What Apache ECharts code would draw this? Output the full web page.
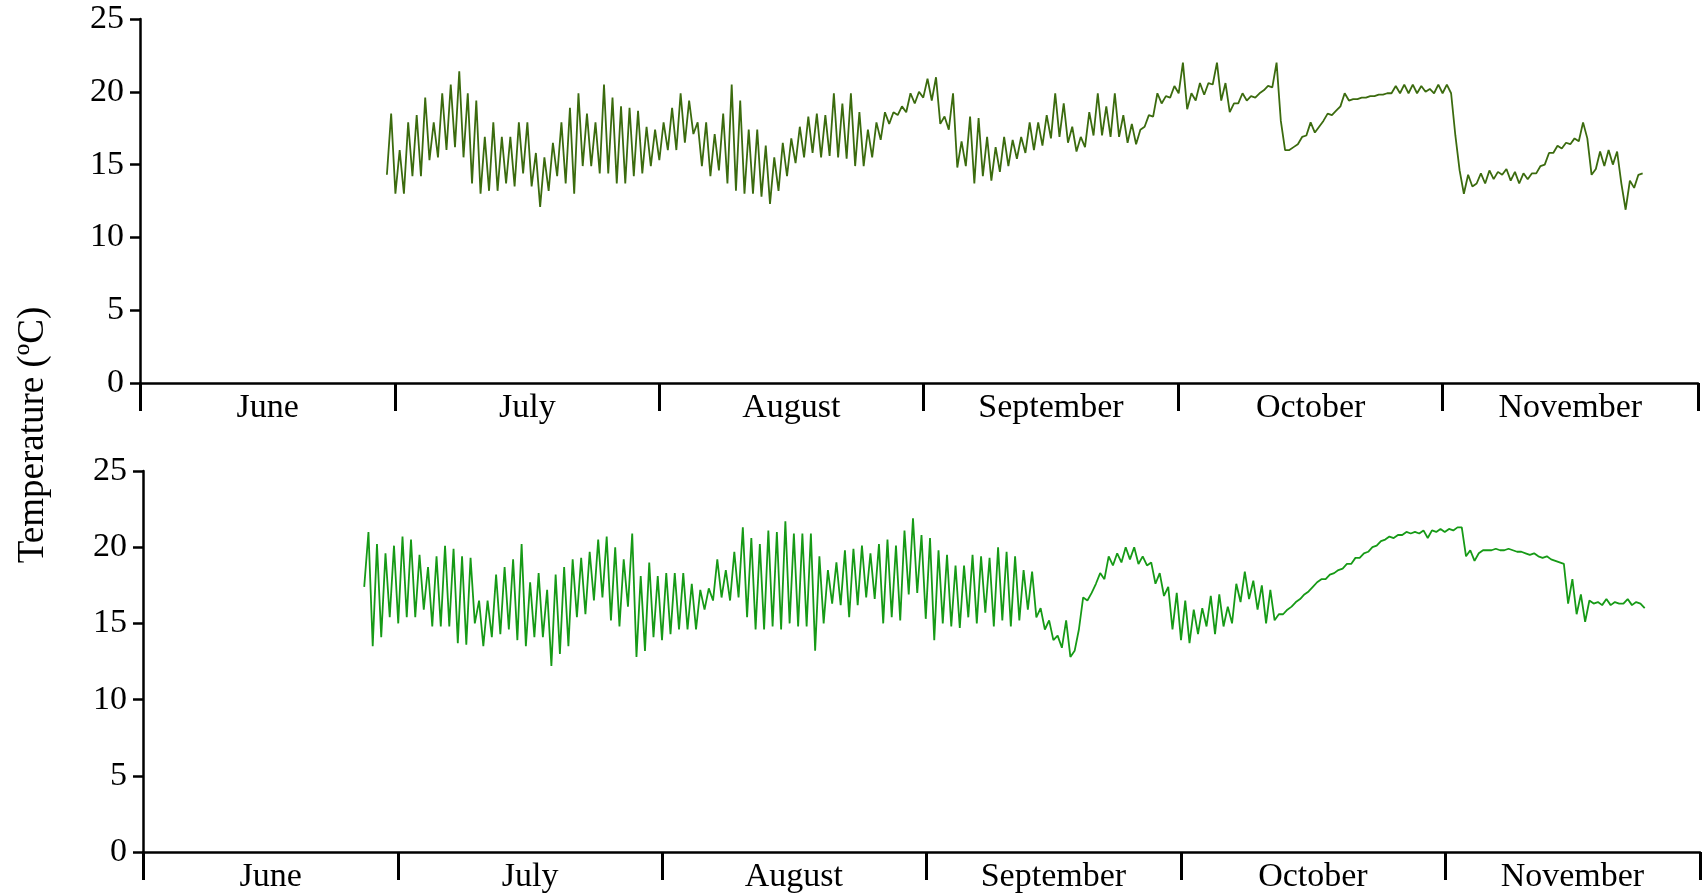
<!DOCTYPE html>
<html>
<head>
<meta charset="utf-8">
<title>Temperature</title>
<script src="https://cdn.jsdelivr.net/npm/echarts@6/dist/echarts.min.js"></script>
<style>
    html, body { margin: 0; padding: 0; background: #fff; }
    #chart { width: 1707px; height: 895px; }
</style>
</head>
<body>
<div id="chart"></div>
<script>
var months = ['June', 'July', 'August', 'September', 'October', 'November'];
// month boundaries, days counted from 1 June
var monthStarts = [0, 30, 61, 92, 122, 153, 183];

// upper logger: readings every 12 h starting at day upperStart
var upperStart = 29;
var upperTemp = [
    14.3, 18.5, 13.0, 16.0, 13.0, 17.9, 14.2, 18.4, 14.2, 19.6, 15.3, 17.9, 15.5, 19.9, 16.0, 20.5,
    16.2, 21.4, 15.5, 19.9, 13.7, 19.4, 13.0, 16.9, 13.2, 17.9, 13.2, 16.9, 13.7, 16.9, 13.5, 17.9,
    14.4, 17.9, 13.5, 15.8, 12.1, 15.5, 13.2, 16.5, 14.2, 17.9, 13.7, 18.9, 13.0, 19.9, 14.9, 18.5,
    14.9, 17.9, 14.4, 20.5, 14.4, 19.6, 13.7, 19.0, 13.7, 18.9, 14.2, 18.7, 14.4, 17.6, 14.9, 17.4,
    15.3, 17.9, 16.0, 18.9, 16.0, 19.9, 16.5, 19.4, 17.1, 17.9, 14.9, 17.9, 14.2, 17.1, 14.6, 18.5,
    13.7, 20.5, 13.2, 19.4, 13.0, 17.4, 13.0, 17.4, 12.8, 16.3, 12.3, 15.5, 13.2, 16.5, 14.2, 16.8,
    15.1, 17.6, 15.5, 18.3, 15.8, 18.5,
    15.5, 18.4, 15.6, 19.9, 15.5, 19.2, 15.4, 19.9, 14.9, 18.6, 14.9, 17.4, 15.5, 17.9, 16.7, 18.6,
    17.8, 18.6, 18.4, 19.0, 18.6, 19.9, 19.2, 20.0, 19.6, 20.9, 19.4, 21.0, 17.8, 18.3, 17.4, 19.9,
    14.8, 16.6, 14.9, 18.3, 13.7, 18.2, 14.2, 16.9, 13.9, 16.2, 14.5, 16.9, 14.9, 16.7, 15.4, 16.9,
    15.8, 17.9, 16.0, 17.9, 16.3, 18.4, 16.8, 19.9, 16.9, 19.2, 16.5, 17.6, 15.9, 16.9, 16.2, 18.6,
    17.0, 19.9, 17.0, 19.0, 16.9, 19.9, 16.9, 18.4, 16.5, 17.8, 16.4, 17.4, 17.6, 18.4, 18.3, 19.9,
    19.2, 19.7, 19.6, 20.4, 19.9, 22.0, 18.8, 19.9, 19.4, 20.6, 19.8, 20.6, 20.5, 22.0, 19.4, 20.6,
    18.6, 19.2, 19.2, 19.9, 19.4, 19.7,
    19.6, 19.9, 20.1, 20.4, 20.3, 22.0, 18.0, 16.0, 16.0, 16.2, 16.4, 16.9, 17.0, 17.9, 17.2, 17.6,
    18.0, 18.5, 18.4, 18.7, 19.0, 19.9, 19.4, 19.5, 19.5, 19.6, 19.6, 19.7, 19.7, 19.8, 19.8, 19.9,
    19.9, 20.4, 19.9, 20.5, 19.9, 20.5, 19.9, 20.4, 20.0, 20.2, 19.9, 20.5, 19.9, 20.5, 19.9, 17.0,
    14.6, 13.0, 14.3, 13.5, 13.7, 14.4, 13.7, 14.6, 14.0, 14.5, 14.3, 14.7, 13.9, 14.5, 13.7, 14.4,
    14.0, 14.4, 14.4, 14.9, 15.0, 15.8, 15.8, 16.3, 16.1, 16.5, 16.4, 16.8, 16.6, 17.9, 16.8, 14.3,
    14.7, 15.9, 14.9, 16.0, 15.0, 15.9, 13.7, 11.9, 13.9, 13.4, 14.3, 14.4
];

// lower logger
var lowerStart = 26;
var lowerTemp = [
    17.4, 21.0, 13.5, 20.2, 14.1, 19.6, 15.4, 20.1, 15.0, 20.7, 15.4, 20.5, 15.4, 19.5, 15.9, 18.7,
    14.8, 19.4, 14.8, 20.1, 14.8, 19.9, 13.7, 19.4, 13.6, 19.3, 15.0, 16.5, 13.5, 16.5, 14.1, 18.2,
    14.3, 18.7, 14.6, 19.2, 13.9, 20.2, 13.5, 17.7, 14.1, 18.3, 14.1, 17.2, 12.2, 18.2, 13.0, 18.7,
    13.5, 19.2, 15.4, 19.3, 15.6, 19.7, 16.5, 20.5, 16.7, 20.7, 15.2, 20.0, 14.8, 19.2, 16.1, 20.9,
    12.8, 18.1, 13.2, 19.0, 14.1, 18.1, 13.9, 18.3, 14.3, 18.3, 14.6, 18.3, 14.6, 17.6, 14.6, 17.2,
    15.9, 17.3, 16.5, 19.2, 16.7, 18.5, 16.5, 19.7, 16.7, 21.3, 15.4, 20.6, 14.6, 20.2, 14.6, 21.1,
    14.8, 21.0, 14.6, 21.7, 15.0, 20.9, 14.8, 20.9, 14.8, 20.9, 13.2, 19.4,
    15.0, 18.5, 16.3, 19.0, 16.2, 19.8, 15.4, 19.9, 16.2, 20.1, 16.7, 19.6, 16.6, 20.2, 15.0, 20.5,
    15.4, 20.1, 15.2, 21.1, 16.9, 21.9, 17.0, 20.8, 15.3, 20.6, 13.9, 19.8, 15.0, 19.5, 14.8, 18.8,
    14.7, 18.8, 15.4, 19.5, 15.0, 19.4, 15.7, 19.3, 14.8, 20.0, 15.2, 19.7, 14.8, 19.4, 15.2, 18.5,
    15.9, 18.4, 15.4, 16.0, 14.6, 15.2, 13.9, 14.2, 13.4, 15.2, 12.8, 13.2, 14.6, 16.7, 16.5, 17.0,
    17.6, 18.3, 17.9, 19.4, 18.8, 19.6, 19.0, 20.0, 19.2, 20.0, 18.9, 19.4, 18.8, 19.0, 17.6, 18.3,
    16.8, 17.4, 14.6, 17.0, 13.9, 16.5, 13.7, 15.9, 14.3, 16.0, 14.8, 16.8, 14.3, 16.9, 14.8, 16.1,
    15.0, 17.6, 16.4, 18.4, 16.6, 17.8, 15.9, 17.5, 15.0, 17.2, 15.2, 15.6,
    15.6, 15.9, 16.1, 16.4, 16.6, 16.9, 17.1, 17.4, 17.7, 17.9, 17.9, 18.2, 18.3, 18.5, 18.6, 18.9,
    18.9, 19.3, 19.3, 19.6, 19.7, 20.0, 20.1, 20.4, 20.5, 20.7, 20.6, 20.8, 20.8, 21.0, 20.9, 21.0,
    20.9, 21.1, 20.6, 21.1, 21.0, 21.2, 21.0, 21.2, 21.1, 21.3, 21.3, 19.4, 19.8, 19.1, 19.6, 19.8,
    19.8, 19.8, 19.9, 19.8, 19.8, 19.9, 19.8, 19.7, 19.7, 19.6, 19.5, 19.6, 19.4, 19.3, 19.4, 19.2,
    19.1, 19.0, 18.9, 16.3, 17.9, 15.6, 16.9, 15.1, 16.5, 16.3, 16.4, 16.2, 16.6, 16.2, 16.4, 16.3,
    16.3, 16.6, 16.2, 16.4, 16.3, 16.0
];

var fontName = '"Liberation Serif", "Times New Roman", serif';

function toPoints(start, values) {
    var pts = [];
    for (var i = 0; i < values.length; i++) {
        pts.push([start + i * 0.5, values[i]]);
    }
    return pts;
}

// month names sit in the middle of each month
var monthMids = [];
for (var i = 0; i < months.length; i++) {
    monthMids.push((monthStarts[i] + monthStarts[i + 1]) / 2);
}

function monthAxis(gridIndex) {
    return {
        type: 'value',
        gridIndex: gridIndex,
        min: 0,
        max: 183,
        axisLine: { show: true, onZero: false, lineStyle: { color: '#000', width: 2.5 } },
        axisTick: {
            show: true,
            customValues: monthStarts,
            length: 28,
            lineStyle: { color: '#000', width: 3 }
        },
        axisLabel: {
            customValues: monthMids,
            margin: 8,
            color: '#000',
            fontFamily: fontName,
            fontSize: 34,
            formatter: function (value) {
                var best = 0;
                for (var k = 0; k < monthMids.length; k++) {
                    if (Math.abs(monthMids[k] - value) < Math.abs(monthMids[best] - value)) best = k;
                }
                return months[best];
            }
        },
        splitLine: { show: false }
    };
}

function tempAxis(gridIndex) {
    return {
        type: 'value',
        gridIndex: gridIndex,
        min: 0,
        max: 25,
        interval: 5,
        axisLine: { show: true, lineStyle: { color: '#000', width: 2.5 } },
        axisTick: { show: true, length: 10, lineStyle: { color: '#000', width: 2.5 } },
        axisLabel: {
            margin: 16,
            color: '#000',
            fontFamily: fontName,
            fontSize: 34,
            showMinLabel: true,
            showMaxLabel: true
        },
        splitLine: { show: false }
    };
}

var myChart = echarts.init(document.getElementById('chart'), null, { renderer: 'canvas' });

var option = {
    backgroundColor: '#fff',
    animation: false,
    textStyle: { fontFamily: fontName },
    grid: [
        { left: 140, right: 9, top: 19, height: 364 },
        { left: 143, right: 7, top: 471, height: 381 }
    ],
    xAxis: [monthAxis(0), monthAxis(1)],
    yAxis: [tempAxis(0), tempAxis(1)],
    graphic: [
        {
            type: 'text',
            x: 33,
            y: 435,
            rotation: Math.PI / 2,
            style: {
                text: 'Temperature (ºC)',
                fill: '#000',
                font: '37px "Liberation Serif", serif',
                align: 'center',
                verticalAlign: 'middle'
            }
        }
    ],
    series: [
        {
            type: 'line',
            xAxisIndex: 0,
            yAxisIndex: 0,
            showSymbol: false,
            sampling: null,
            lineStyle: { color: '#3b6b0e', width: 1.8 },
            itemStyle: { color: '#3b6b0e' },
            data: toPoints(upperStart, upperTemp)
        },
        {
            type: 'line',
            xAxisIndex: 1,
            yAxisIndex: 1,
            showSymbol: false,
            sampling: null,
            lineStyle: { color: '#169a16', width: 1.8 },
            itemStyle: { color: '#169a16' },
            data: toPoints(lowerStart, lowerTemp)
        }
    ]
};

myChart.setOption(option);
window.onresize = myChart.resize;
</script>
</body>
</html>
